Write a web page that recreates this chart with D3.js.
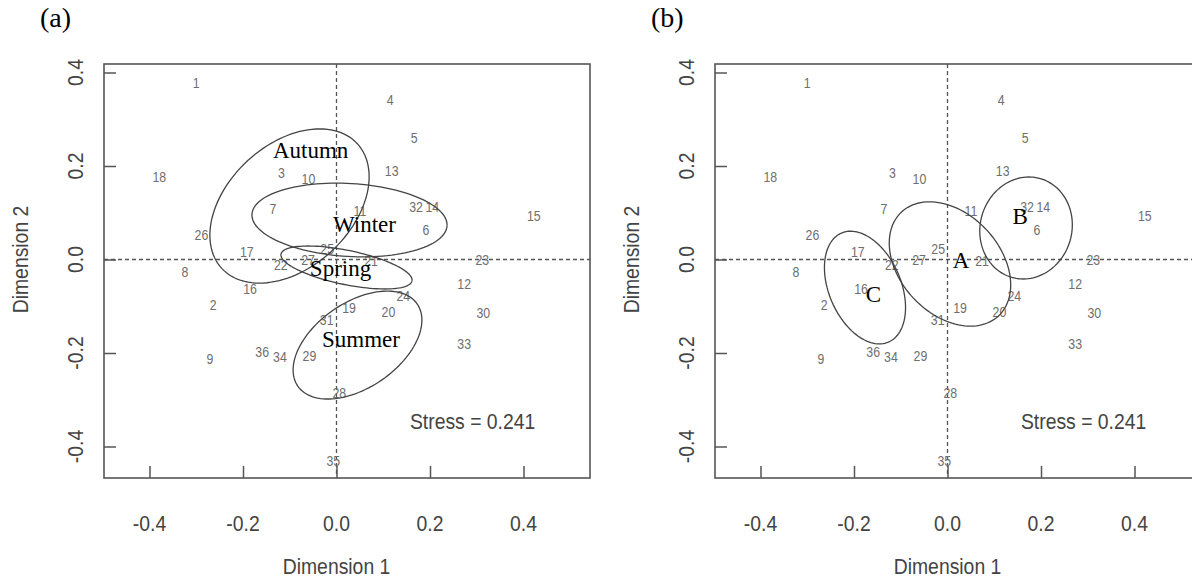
<!DOCTYPE html>
<html>
<head>
<meta charset="utf-8">
<script src="https://cdnjs.cloudflare.com/ajax/libs/d3/7.8.5/d3.min.js"></script>
<style>
  body { margin: 0; background: #fff; }
  svg { display: block; }
</style>
</head>
<body>
<div id="chart"></div>
<script>
//site numbers and their MDS coordinates (same in both panels)//
var siteIds = ["1","2","3","4","5","6","7","8","9","10","11","12","13","14","15","16","17","18",
  "19","20","21","22","23","24","25","26","27","28","29","30","31","32","33","34","35","36"];
var dim1 = [-0.300, -0.264, -0.118, 0.115, 0.166, 0.191, -0.136, -0.324, -0.271, -0.060, 0.050, 0.273,
  0.118, 0.205, 0.422, -0.185, -0.192, -0.379, 0.027, 0.111, 0.074, -0.119, 0.312, 0.143,
  -0.020, -0.289, -0.061, 0.006, -0.058, 0.314, -0.021, 0.170, 0.273, -0.121, -0.007, -0.159];
var dim2 = [0.378, -0.097, 0.184, 0.341, 0.259, 0.063, 0.108, -0.026, -0.213, 0.172, 0.103, -0.053,
  0.189, 0.113, 0.092, -0.064, 0.015, 0.177, -0.103, -0.113, -0.003, -0.011, -0.001, -0.078,
  0.022, 0.053, -0.002, -0.285, -0.206, -0.115, -0.129, 0.113, -0.181, -0.208, -0.432, -0.197];

//panel (a) ellipses: seasons//
var seasonNames = ["Autumn", "Winter", "Spring", "Summer"];
var seasonCx = [-0.1005, 0.0278, 0.0214, 0.0449];
var seasonCy = [0.1144, 0.0845, -0.0171, -0.183];
var seasonRx = [0.197, 0.209, 0.143, 0.155];
var seasonRy = [0.132, 0.078, 0.0366, 0.091];
var seasonAngle = [42.6, -3.4, -11.6, 34.5];
var seasonLabelX = [-0.136, -0.0075, -0.057, -0.031];
var seasonLabelY = [0.217, 0.059, -0.035, -0.187];

//panel (b) ellipses: groups//
var groupNames = ["A", "B", "C"];
var groupCx = [0.0053, 0.168, -0.1765];
var groupCy = [-0.0096, 0.0674, -0.060];
var groupRx = [0.152, 0.110, 0.127];
var groupRy = [0.107, 0.098, 0.077];
var groupAngle = [-47, 73.8, -66.7];
var groupLabelX = [0.011, 0.139, -0.175];
var groupLabelY = [-0.018, 0.076, -0.091];

var xTicks = [-0.4, -0.2, 0.0, 0.2, 0.4];
var yTicks = [-0.4, -0.2, 0.0, 0.2, 0.4];
var xDomain = [-0.4973, 0.5422];
var yDomain = [-0.4674, 0.4182];
var stressText = "Stress = 0.241";

var w = 1192;
var h = 578;

var svg = d3.select("#chart")
  .append("svg")
  .attr("width", w)
  .attr("height", h);

//builds the list of ellipse objects for one panel//
function makeEllipses(names, cx, cy, rx, ry, ang, lx, ly) {
  return names.map(function(n, i) {
    return {name: n, cx: cx[i], cy: cy[i], rx: rx[i], ry: ry[i], angle: ang[i], lx: lx[i], ly: ly[i]};
  });
}

function drawPanel(left, tag, ellipses) {
  var plotW = 486, top = 64, bottom = 478;
  var x = d3.scaleLinear().domain(xDomain).range([left, left + plotW]);
  var y = d3.scaleLinear().domain(yDomain).range([bottom, top]);
  var g = svg.append("g");

  //panel tag (a) / (b)//
  g.append("text")
    .attr("x", left - 64)
    .attr("y", 27)
    .attr("font-family", "'Liberation Serif', 'Times New Roman', serif")
    .attr("font-size", "28px")
    .attr("fill", "#000")
    .text(tag);

  //dashed zero lines//
  g.append("line")
    .attr("x1", x(0)).attr("x2", x(0))
    .attr("y1", top).attr("y2", bottom)
    .attr("stroke", "#555").attr("stroke-width", 1.3)
    .attr("stroke-dasharray", "4,3");
  g.append("line")
    .attr("x1", left).attr("x2", left + plotW)
    .attr("y1", y(0)).attr("y2", y(0))
    .attr("stroke", "#555").attr("stroke-width", 1.3)
    .attr("stroke-dasharray", "4,3");

  //inward ticks//
  g.append("g")
    .attr("transform", "translate(0," + bottom + ")")
    .call(d3.axisBottom(x).tickValues(xTicks).tickSize(-12).tickFormat(""))
    .call(function(a) { a.select(".domain").remove(); })
    .selectAll("line").attr("stroke", "#555").attr("stroke-width", 1.5);
  g.append("g")
    .attr("transform", "translate(" + left + ",0)")
    .call(d3.axisLeft(y).tickValues(yTicks).tickSize(-12).tickFormat(""))
    .call(function(a) { a.select(".domain").remove(); })
    .selectAll("line").attr("stroke", "#555").attr("stroke-width", 1.5);

  //tick labels//
  g.selectAll(".xlab")
    .data(xTicks)
    .enter()
    .append("text")
    .attr("transform", function(d) { return "translate(" + x(d) + ",531) scale(0.88,1)"; })
    .attr("text-anchor", "middle")
    .attr("font-family", "'Liberation Sans', Arial, sans-serif")
    .attr("font-size", "22px")
    .attr("fill", "#444")
    .text(function(d) { return d.toFixed(1); });
  g.selectAll(".ylab")
    .data(yTicks)
    .enter()
    .append("text")
    .attr("transform", function(d) { return "translate(" + (left - 21) + "," + y(d) + ") rotate(-90) scale(0.88,1)"; })
    .attr("text-anchor", "middle")
    .attr("font-family", "'Liberation Sans', Arial, sans-serif")
    .attr("font-size", "22px")
    .attr("fill", "#444")
    .text(function(d) { return d.toFixed(1); });

  //axis titles//
  g.append("text")
    .attr("transform", "translate(" + x(0) + ",574) scale(0.88,1)")
    .attr("text-anchor", "middle")
    .attr("font-family", "'Liberation Sans', Arial, sans-serif")
    .attr("font-size", "22px")
    .attr("fill", "#444")
    .text("Dimension 1");
  g.append("text")
    .attr("transform", "translate(" + (left - 76) + "," + y(0) + ") rotate(-90) scale(0.88,1)")
    .attr("text-anchor", "middle")
    .attr("font-family", "'Liberation Sans', Arial, sans-serif")
    .attr("font-size", "22px")
    .attr("fill", "#444")
    .text("Dimension 2");

  //site number labels//
  g.selectAll(".site")
    .data(siteIds)
    .enter()
    .append("text")
    .attr("transform", function(d, i) { return "translate(" + x(dim1[i]) + "," + (y(dim2[i]) + 5) + ") scale(0.88,1)"; })
    .attr("text-anchor", "middle")
    .attr("font-family", "'Liberation Sans', Arial, sans-serif")
    .attr("font-size", "14px")
    .attr("fill", "#6e6e6e")
    .text(function(d) { return d; });

  //ellipses, traced in data space then mapped through the scales//
  var line = d3.line()
    .x(function(p) { return x(p[0]); })
    .y(function(p) { return y(p[1]); });
  var steps = d3.range(0, 361, 3);

  g.selectAll(".ell")
    .data(ellipses)
    .enter()
    .append("path")
    .attr("d", function(e) {
      var th = e.angle * Math.PI / 180;
      var pts = steps.map(function(s) {
        var t = s * Math.PI / 180;
        return [e.cx + e.rx * Math.cos(t) * Math.cos(th) - e.ry * Math.sin(t) * Math.sin(th),
                e.cy + e.rx * Math.cos(t) * Math.sin(th) + e.ry * Math.sin(t) * Math.cos(th)];
      });
      return line(pts);
    })
    .attr("fill", "none")
    .attr("stroke", "#444")
    .attr("stroke-width", 1.3);

  g.selectAll(".elab")
    .data(ellipses)
    .enter()
    .append("text")
    .attr("x", function(e) { return x(e.lx); })
    .attr("y", function(e) { return y(e.ly); })
    .attr("font-family", "'Liberation Serif', 'Times New Roman', serif")
    .attr("font-size", "23px")
    .attr("fill", "#000")
    .text(function(e) { return e.name; });

  //stress value//
  g.append("text")
    .attr("transform", "translate(" + x(0.157) + "," + y(-0.362) + ") scale(0.88,1)")
    .attr("font-family", "'Liberation Sans', Arial, sans-serif")
    .attr("font-size", "22px")
    .attr("fill", "#444")
    .text(stressText);

  //plot box//
  g.append("rect")
    .attr("x", left)
    .attr("y", top)
    .attr("width", plotW)
    .attr("height", bottom - top)
    .attr("fill", "none")
    .attr("stroke", "#555")
    .attr("stroke-width", 1.6);
}

drawPanel(104, "(a)", makeEllipses(seasonNames, seasonCx, seasonCy, seasonRx, seasonRy, seasonAngle, seasonLabelX, seasonLabelY));
drawPanel(715, "(b)", makeEllipses(groupNames, groupCx, groupCy, groupRx, groupRy, groupAngle, groupLabelX, groupLabelY));
</script>
</body>
</html>
